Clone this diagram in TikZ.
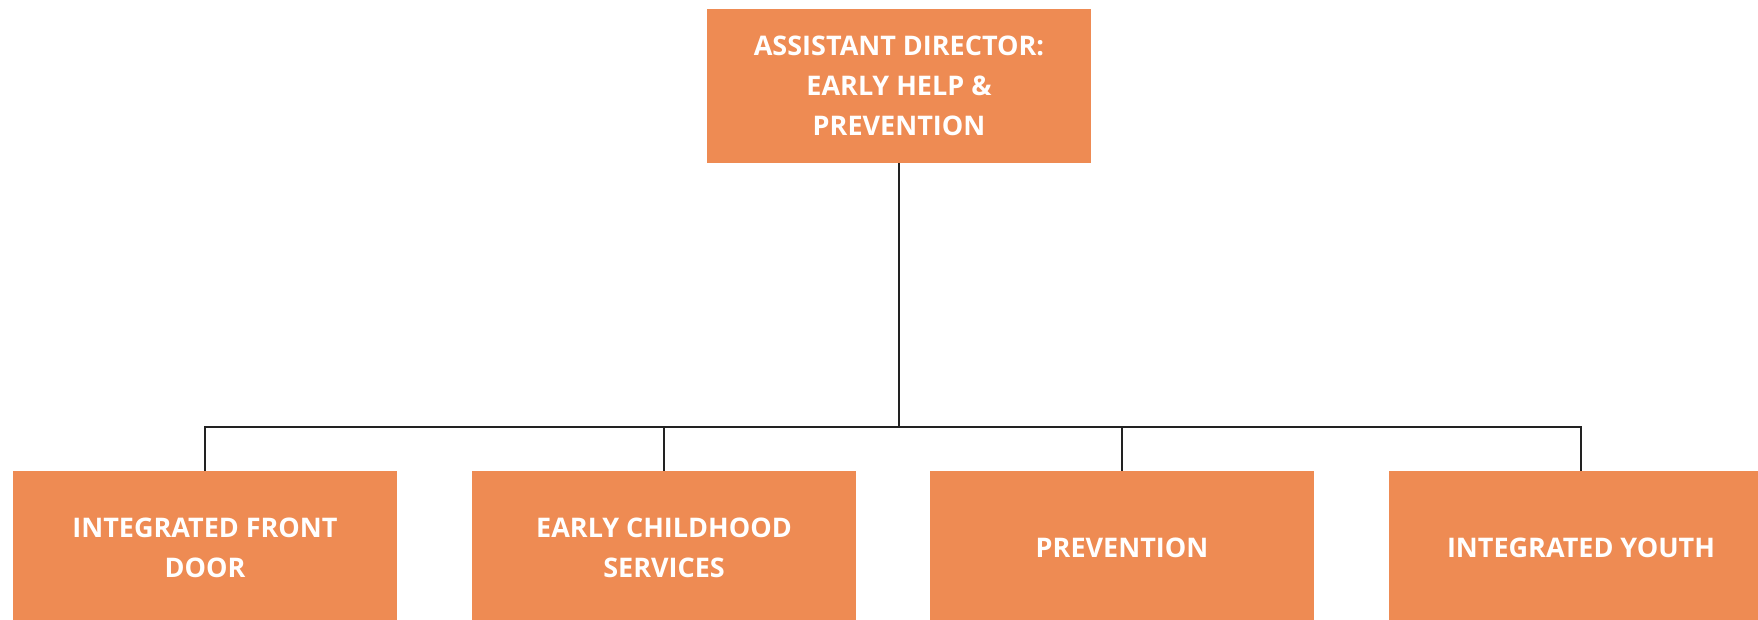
\documentclass[tikz,border=0pt]{standalone}
\usepackage{fontspec}
\setmainfont{Open Sans}
\definecolor{boxorange}{RGB}{238,139,83}
\definecolor{linedark}{RGB}{34,34,34}
\begin{document}
\begin{tikzpicture}[x=1pt,y=1pt,
  orgbox/.style={rectangle, fill=boxorange, draw=none, minimum width=384pt, minimum height=154pt,
    inner sep=0pt, align=center, text=white, font=\fontsize{27}{40}\selectfont\bfseries},
  link/.style={draw=linedark, line width=2.5pt}]
\clip (0,0) rectangle (1758,620);
\fill[white] (0,0) rectangle (1758,620);
\node[orgbox] (top) at (899,534) {ASSISTANT DIRECTOR:\\EARLY HELP \&\\PREVENTION};
\node[orgbox] (b1) at (205,72) {INTEGRATED FRONT\\DOOR};
\node[orgbox] (b2) at (664,72) {EARLY CHILDHOOD\\SERVICES};
\node[orgbox] (b3) at (1122,72) {PREVENTION};
\node[orgbox] (b4) at (1581,72) {INTEGRATED YOUTH};
\coordinate (j) at (899,193);
\draw[link] (top.south) -- (j);
\draw[link] (j) -| (b1.north);
\draw[link] (j) -| (b2.north);
\draw[link] (j) -| (b3.north);
\draw[link] (j) -| (b4.north);
\end{tikzpicture}
\end{document}
